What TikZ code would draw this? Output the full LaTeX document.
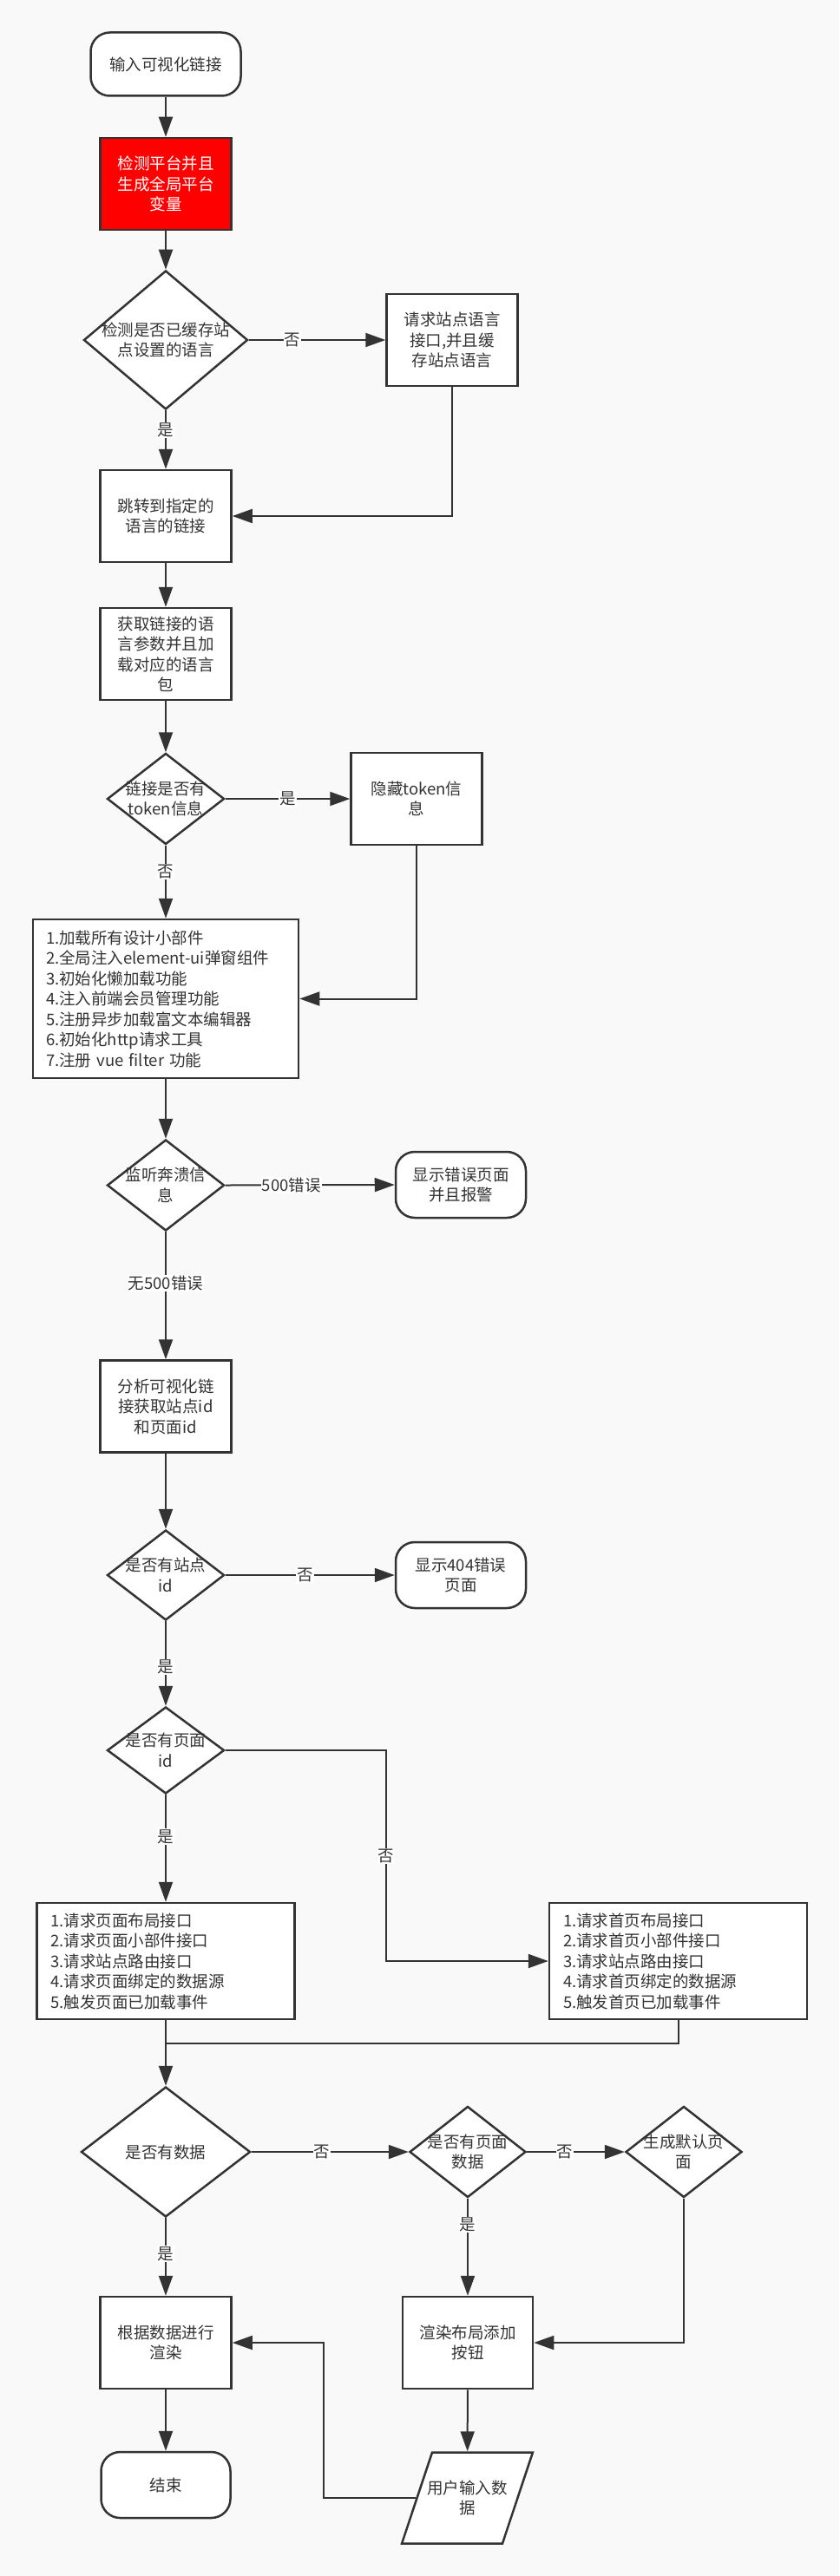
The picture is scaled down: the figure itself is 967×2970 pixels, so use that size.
\documentclass[tikz,border=0pt]{standalone}
\usepackage{fontspec}
\setmainfont{Noto Sans CJK SC}
\usetikzlibrary{shapes.geometric,arrows.meta}
\definecolor{inkgray}{HTML}{333333}
\definecolor{paper}{HTML}{F9F9F9}

\begin{document}
\begin{tikzpicture}[x=1pt,y=-1pt,
    font=\fontsize{18.5pt}{23.5pt}\selectfont, text=inkgray,
    box/.style={rectangle, draw=inkgray, line width=2.5pt, fill=white,
      minimum width=151pt, minimum height=106pt, inner sep=2pt, align=center},
    listbox/.style={box, align=left, inner sep=0pt, text width=265pt,
      minimum width=297pt, minimum height=134pt},
    term/.style={box, rounded corners=22pt, minimum width=150pt, minimum height=76pt},
    decision/.style={diamond, draw=inkgray, line width=2.5pt, fill=white, inner sep=0pt},
    io/.style={trapezium, trapezium left angle=71.6, trapezium right angle=108.4,
      draw=inkgray, line width=2.5pt, fill=white, inner xsep=40.5pt, inner ysep=52.5pt},
    link/.style={draw=inkgray, line width=2pt},
    flow/.style={link, -{Triangle[length=23pt,width=16pt]}},
    lbl/.style={fill=white, inner sep=1pt}]

    % Define the background page
    \fill[paper] (0,0) rectangle (967,2970);

    % Draw the main column
    \node[term, minimum width=173pt, minimum height=73pt] (start) at (191,74) {输入可视化链接};
    \node[box, fill=red, text=white] (red) at (191,212) {检测平台并且\\生成全局平台\\变量};
    \node[decision, minimum width=189pt, minimum height=160pt,
      label={[align=center]center:检测是否已缓存站\\点设置的语言}] (d1) at (191,392) {};
    \node[box] (req) at (521,392) {请求站点语言\\接口,并且缓\\存站点语言};
    \node[box] (jump) at (191,595) {跳转到指定的\\语言的链接};
    \node[box] (lang) at (191,754) {获取链接的语\\言参数并且加\\载对应的语言\\包};
    \node[decision, minimum width=135pt, minimum height=105pt,
      label={[align=center]center:链接是否有\\token信息}] (tok) at (191,921) {};
    \node[box] (hide) at (480,921) {隐藏token信\\息};
    \node[listbox, text width=276pt, minimum width=306pt, minimum height=183pt] (init) at (191,1151.5)
      {1.加载所有设计小部件\\2.全局注入element-ui弹窗组件\\3.初始化懒加载功能\\4.注入前端会员管理功能\\5.注册异步加载富文本编辑器\\6.初始化http请求工具\\7.注册 vue filter 功能};

    % Crash check and ids
    \node[decision, minimum width=135pt, minimum height=105pt,
      label={[align=center]center:监听奔溃信\\息}] (crash) at (191,1366.5) {};
    \node[term] (err) at (531,1366) {显示错误页面\\并且报警};
    \node[box] (parse) at (191,1621.5) {分析可视化链\\接获取站点id\\和页面id};
    \node[decision, minimum width=135pt, minimum height=104pt,
      label={[align=center]center:是否有站点\\id}] (site) at (191,1816) {};
    \node[term] (nf) at (531,1816) {显示404错误\\页面};
    \node[decision, minimum width=135pt, minimum height=100pt,
      label={[align=center]center:是否有页面\\id}] (pgd) at (191,2018) {};
    \node[listbox] (pbox) at (191,2261)
      {1.请求页面布局接口\\2.请求页面小部件接口\\3.请求站点路由接口\\4.请求页面绑定的数据源\\5.触发页面已加载事件};
    \node[listbox] (home) at (781.5,2261)
      {1.请求首页布局接口\\2.请求首页小部件接口\\3.请求站点路由接口\\4.请求首页绑定的数据源\\5.触发首页已加载事件};

    % Data check and rendering
    \node[decision, minimum width=195pt, minimum height=150pt,
      label={center:是否有数据}] (data) at (191,2481) {};
    \node[decision, minimum width=134pt, minimum height=105pt,
      label={[align=center]center:是否有页面\\数据}] (hpd) at (539,2481) {};
    \node[decision, minimum width=134pt, minimum height=105pt,
      label={[align=center]center:生成默认页\\面}] (gen) at (788,2481) {};
    \node[box] (render) at (191,2701) {根据数据进行\\渲染};
    \node[box, minimum width=150pt] (layout) at (539,2701) {渲染布局添加\\按钮};
    \node[term, minimum width=149pt] (stop) at (191,2865) {结束};
    \node[io, label={[align=center]center:用户输入数\\据}] (input) at (538.5,2880) {};

    % Bend points
    \coordinate (bendA) at (445,2261);
    \coordinate (join) at (191,2356);
    \coordinate (bendB) at (373,2701);

    % Straight arrows down the columns
    \foreach \a/\b in {start/red, red/d1, jump/lang, lang/tok, init/crash,
      parse/site, pbox/data, render/stop, layout/input}
      \draw[flow] (\a) -- (\b);

    % Arrows with labels
    \draw[flow] (d1.east) -- node[lbl, pos=0.32] {否} (req.west);
    \draw[flow] (d1.south) -- node[lbl, pos=0.34] {是} (jump.north);
    \draw[flow] (req.south) |- (jump.east);
    \draw[flow] (tok.east) -- node[lbl, pos=0.5] {是} (hide.west);
    \draw[flow] (tok.south) -- node[lbl, pos=0.36] {否} (init.north);
    \draw[flow] (hide.south) |- (init.east);
    \draw[flow] (crash.east) -- node[lbl, pos=0.39] {500错误} (err.west);
    \draw[flow] (crash.south) -- node[lbl, pos=0.4] {无500错误} (parse.north);
    \draw[flow] (site.east) -- node[lbl, pos=0.47] {否} (nf.west);
    \draw[flow] (site.south) -- node[lbl, pos=0.54] {是} (pgd.north);
    \draw[flow] (pgd.south) -- node[lbl, pos=0.39] {是} (pbox.north);
    \draw[flow] (pgd.east) -| node[lbl, pos=0.75] {否} (bendA) -- (home.west);
    \draw[link] (home.south) |- (join);
    \draw[flow] (data.east) -- node[lbl, pos=0.45] {否} (hpd.west);
    \draw[flow] (data.south) -- node[lbl, pos=0.46] {是} (render.north);
    \draw[flow] (hpd.east) -- node[lbl, pos=0.39] {否} (gen.west);
    \draw[flow] (hpd.south) -- node[lbl, pos=0.27] {是} (layout.north);
    \draw[flow] (gen.south) |- (layout.east);
    \draw[flow] (input.west) -| (bendB) -- (render.east);
\end{tikzpicture}
\end{document}
